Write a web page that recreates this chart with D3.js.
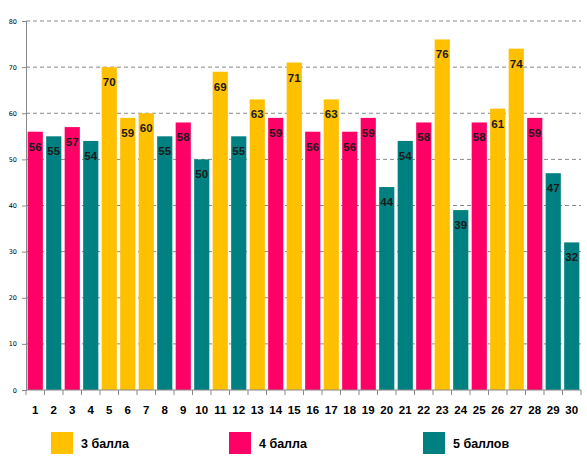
<!DOCTYPE html>
<html><head><meta charset="utf-8">
<script src="https://cdn.jsdelivr.net/npm/d3@7"></script>
<style>body{margin:0;background:#fff}svg{display:block}</style>
</head><body>
<script>
const categories = d3.range(1, 31).map(String);
const values = [56,55,57,54,70,59,60,55,58,50,69,55,63,59,71,56,63,56,59,44,54,58,76,39,58,61,74,59,47,32];
const grades = ["4","5","4","5","3","3","3","5","4","5","3","5","3","4","3","4","3","4","4","5","5","4","3","5","4","3","3","4","5","5"];
const legendKeys = ["3","4","5"];
const legendLabels = ["3 балла","4 балла","5 баллов"];
const colors = {"3":"#FFC000","4":"#FF0066","5":"#008080"};
const yTicks = [0,10,20,30,40,50,60,70,80];

const W = 587, H = 467;
const m = {left:26, right:6, top:21, bottom:77};
const svg = d3.select("body").append("svg").attr("width", W).attr("height", H);
const x = d3.scaleBand().domain(categories).range([m.left, W - m.right]).paddingInner(0.18).paddingOuter(0.09);
const y = d3.scaleLinear().domain([0, 80]).range([H - m.bottom, m.top]);

// gridlines
svg.append("g").selectAll("line").data(yTicks.filter(d => d > 0)).join("line")
  .attr("x1", m.left).attr("x2", W - m.right)
  .attr("y1", d => y(d)).attr("y2", d => y(d))
  .attr("stroke", "#888").attr("stroke-width", 1).attr("stroke-dasharray", "4,3");

// y axis
const ya = svg.append("g").attr("transform", `translate(${m.left},0)`)
  .call(d3.axisLeft(y).tickValues(yTicks).tickSize(4).tickPadding(5));
ya.select(".domain").attr("stroke", "#888");
ya.selectAll(".tick line").attr("stroke", "#888");
ya.selectAll("text").attr("font-family", "DejaVu Sans, sans-serif").attr("font-size", 6.5).attr("fill", "#000");

// bars
svg.append("g").selectAll("rect").data(values).join("rect")
  .attr("x", (d, i) => x(categories[i]))
  .attr("width", x.bandwidth())
  .attr("y", d => y(d))
  .attr("height", d => y(0) - y(d))
  .attr("fill", (d, i) => colors[grades[i]]);

// value labels
svg.append("g").selectAll("text").data(values).join("text")
  .attr("x", (d, i) => x(categories[i]) + x.bandwidth() / 2)
  .attr("y", d => y(d) + 19)
  .attr("text-anchor", "middle")
  .attr("font-family", "Liberation Sans, Arial, sans-serif")
  .attr("font-weight", "bold").attr("font-size", 11.5)
  .attr("fill", "#1a1a1a")
  .text(d => d);

// x axis
const step = x.step();
const xa = svg.append("g").attr("transform", `translate(0,${y(0)})`);
xa.append("line").attr("x1", m.left).attr("x2", W - m.right).attr("stroke", "#888");
const bounds = d3.range(0, categories.length + 1).map(i => m.left + (W - m.right - m.left) * i / categories.length);
xa.selectAll("line.t").data(bounds).join("line").attr("class", "t")
  .attr("x1", d => d).attr("x2", d => d).attr("y1", 0).attr("y2", 5).attr("stroke", "#888");
xa.selectAll("text").data(categories).join("text")
  .attr("x", d => x(d) + x.bandwidth() / 2)
  .attr("y", 24)
  .attr("text-anchor", "middle")
  .attr("font-family", "Liberation Sans, Arial, sans-serif")
  .attr("font-weight", "bold").attr("font-size", 11.5)
  .attr("fill", "#000")
  .text(d => d);

// legend
const legX = [51, 229, 423];
const leg = svg.append("g").selectAll("g").data(legendKeys).join("g")
  .attr("transform", (d, i) => `translate(${legX[i]},432)`);
leg.append("rect").attr("width", 22).attr("height", 22).attr("fill", d => colors[d]);
leg.append("text").attr("x", 30).attr("y", 16)
  .attr("font-family", "Liberation Sans, Arial, sans-serif")
  .attr("font-weight", "bold").attr("font-size", 12.5).attr("fill", "#000")
  .text((d, i) => legendLabels[i]);
</script>
</body></html>
